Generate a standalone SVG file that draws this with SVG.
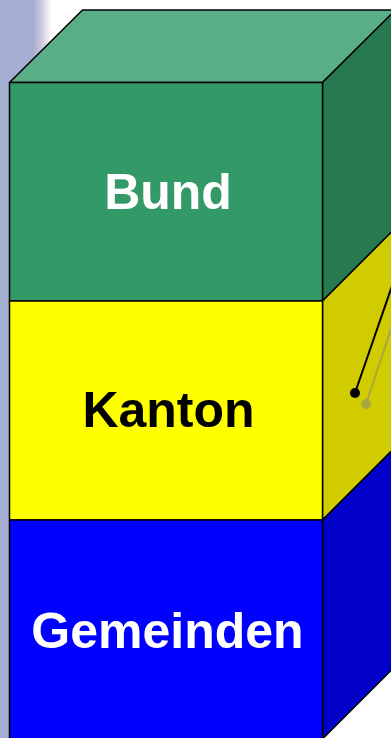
<svg xmlns="http://www.w3.org/2000/svg" width="391" height="738" viewBox="0 0 391 738">
<defs>
<linearGradient id="bg" x1="0" y1="0" x2="1" y2="0">
<stop offset="0" stop-color="#a3aed0"/>
<stop offset="0.64" stop-color="#a3aed0"/>
<stop offset="0.75" stop-color="#c4bed8"/>
<stop offset="1" stop-color="#ffffff"/>
</linearGradient>
<style>
.e{stroke:#000;stroke-width:1.5;stroke-linejoin:round}
.t{font-family:"Liberation Sans",Arial,sans-serif;font-weight:bold;font-size:50px;text-anchor:middle}
</style>
</defs>
<rect width="391" height="738" fill="#fff"/>
<rect x="0" y="0" width="52" height="738" fill="url(#bg)"/>
<g id="bund">
<polygon class="e" points="9.5,82.5 82.5,10 395.5,10 322.5,82.5" fill="#5aae87"/>
<polygon class="e" points="322.5,82.5 395.5,10 395.5,228 322.5,301" fill="#277a50"/>
<rect class="e" x="9.5" y="82.5" width="313" height="218.5" fill="#339966"/>
<text class="t" x="168" y="209" fill="#fff">Bund</text>
</g>
<g id="kanton">
<polygon class="e" points="322.5,301 395.5,228 395.5,447 322.5,520" fill="#d0cc00"/>
<rect class="e" x="9.5" y="301" width="313" height="219" fill="#ffff00"/>
<text class="t" x="168.5" y="427" fill="#000">Kanton</text>
</g>
<g id="gemeinden">
<polygon class="e" points="322.5,520 395.5,447 395.5,666 322.5,739" fill="#0000c8"/>
<rect class="e" x="9.5" y="520" width="313" height="220" fill="#0000ff"/>
<text class="t" x="167.5" y="648" fill="#fff">Gemeinden</text>
</g>
<g id="connectors">
<line x1="366" y1="404" x2="394" y2="320" stroke="#a09e50" stroke-width="2" opacity="0.8"/>
<circle cx="366" cy="404" r="5" fill="#a09e50" opacity="0.8"/>
<line x1="355" y1="393" x2="392" y2="286" stroke="#000" stroke-width="2"/>
<circle cx="355" cy="393" r="5" fill="#000"/>
</g>
</svg>
